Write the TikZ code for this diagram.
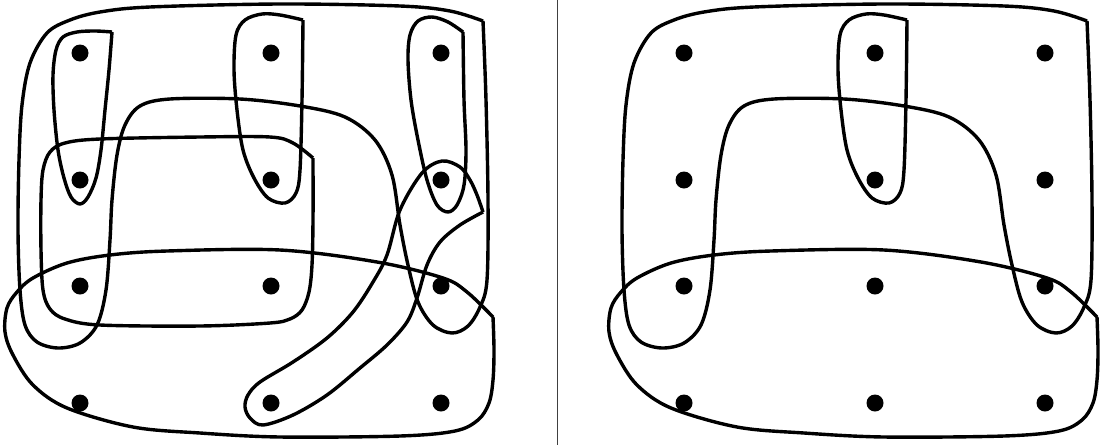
\documentclass[tikz,border=0pt]{standalone}
\usepackage{xcolor}
\usepackage{tikz}

\begin{document}
\begin{tikzpicture}[
    x=1pt,
    y=-1pt,
    vertex/.style={
        circle,
        fill=black,
        inner sep=0pt,
        minimum size=17pt
    },
    hyperedge/.style={
        line width=3.4pt,
        line join=round,
        smooth,
        tension=0.55
    },
    divider/.style={
        black!75,
        line width=1pt
    }
]

\useasboundingbox (0,0) rectangle (1102,445);

% Panel 1: vertices
\node[vertex] (l11) at (80,53) {};
\node[vertex] (l12) at (271,53) {};
\node[vertex] (l13) at (441,53) {};
\node[vertex] (l21) at (80,180) {};
\node[vertex] (l22) at (271,180) {};
\node[vertex] (l23) at (441,180) {};
\node[vertex] (l31) at (80,286) {};
\node[vertex] (l32) at (271,286) {};
\node[vertex] (l33) at (441,286) {};
\node[vertex] (l41) at (80,403) {};
\node[vertex] (l42) at (271,403) {};
\node[vertex] (l43) at (441,403) {};

% Frame with the notch
\draw[
    hyperedge
] plot coordinates {
    (483,21) (486,100) (488,200) (487,280) (480,307) (468,326) (452,333)
    (433,325) (418,302) (408,265) (400,225) (392,175) (375,140) (345,117)
    (300,106) (240,99) (170,99) (140,106) (125,125) (117,155) (112,200)
    (110,240) (106,290) (97,325) (80,343) (58,348) (37,342) (25,325)
    (20,290) (18,230) (19,160) (22,105) (30,63) (47,33) (70,20) (100,12)
    (150,7) (280,4) (400,6) (450,11) (483,21)
};

% Lower band
\draw[
    hyperedge
] plot coordinates {
    (493,317) (494,350) (493,380) (489,403) (478,420) (455,431) (400,436)
    (280,437) (200,433) (133,427) (67,408) (33,385) (13,355) (5,332)
    (7,308) (17,292) (33,278) (67,263) (110,255) (167,251) (280,250)
    (377,262) (443,278) (467,292) (493,317)
};

% Column loops
\draw[
    hyperedge
] plot coordinates {
    (112,32) (109,70) (105,110) (101,150) (96,178) (88,197) (80,204)
    (71,197) (64,178) (58,150) (54,110) (53,75) (56,50) (63,37) (77,32)
    (95,31) (112,32)
};

\draw[
    hyperedge
] plot coordinates {
    (303,20) (302,100) (300,170) (296,193) (285,203) (268,198) (254,178)
    (243,150) (237,110) (234,70) (236,35) (245,20) (262,14) (280,15)
    (303,20)
};

\draw[
    hyperedge
] plot coordinates {
    (463,32) (464,100) (466,150) (464,185) (457,205) (448,212) (437,205)
    (427,180) (418,140) (411,100) (408,60) (410,35) (418,21) (432,17)
    (448,22) (463,32)
};

% Middle box
\draw[
    hyperedge
] plot coordinates {
    (313,158) (313,220) (312,265) (309,292) (302,310) (290,319) (270,323)
    (200,326) (100,325) (65,319) (50,309) (43,290) (41,250) (41,200)
    (43,170) (50,152) (65,143) (100,139) (200,137) (270,137) (293,143)
    (313,158)
};

% Diagonal loop
\draw[
    hyperedge
] plot coordinates {
    (483,212) (460,225) (440,242) (427,265) (417,298) (407,322) (387,345)
    (360,368) (327,395) (293,415) (263,425) (250,418) (245,407) (248,395)
    (260,382) (293,362) (327,338) (353,312) (373,282) (387,255) (400,210)
    (422,173) (442,161) (460,167) (470,180) (477,195) (483,212)
};


% Divider
\draw[
    divider
] (557,0) -- (557,445);


% Panel 2: vertices
\node[vertex] (r11) at (684,53) {};
\node[vertex] (r12) at (875,53) {};
\node[vertex] (r13) at (1045,53) {};
\node[vertex] (r21) at (684,180) {};
\node[vertex] (r22) at (875,180) {};
\node[vertex] (r23) at (1045,180) {};
\node[vertex] (r31) at (684,286) {};
\node[vertex] (r32) at (875,286) {};
\node[vertex] (r33) at (1045,286) {};
\node[vertex] (r41) at (684,403) {};
\node[vertex] (r42) at (875,403) {};
\node[vertex] (r43) at (1045,403) {};

\begin{scope}[
    shift={(604,0)}
]

% Frame with the notch
\draw[
    hyperedge
] plot coordinates {
    (483,21) (486,100) (488,200) (487,280) (480,307) (468,326) (452,333)
    (433,325) (418,302) (408,265) (400,225) (392,175) (375,140) (345,117)
    (300,106) (240,99) (170,99) (140,106) (125,125) (117,155) (112,200)
    (110,240) (106,290) (97,325) (80,343) (58,348) (37,342) (25,325)
    (20,290) (18,230) (19,160) (22,105) (30,63) (47,33) (70,20) (100,12)
    (150,7) (280,4) (400,6) (450,11) (483,21)
};

% Lower band
\draw[
    hyperedge
] plot coordinates {
    (493,317) (494,350) (493,380) (489,403) (478,420) (455,431) (400,436)
    (280,437) (200,433) (133,427) (67,408) (33,385) (13,355) (5,332)
    (7,308) (17,292) (33,278) (67,263) (110,255) (167,251) (280,250)
    (377,262) (443,278) (467,292) (493,317)
};

% Column loop
\draw[
    hyperedge
] plot coordinates {
    (303,20) (302,100) (300,170) (296,193) (285,203) (268,198) (254,178)
    (243,150) (237,110) (234,70) (236,35) (245,20) (262,14) (280,15)
    (303,20)
};

\end{scope}

\end{tikzpicture}
\end{document}
